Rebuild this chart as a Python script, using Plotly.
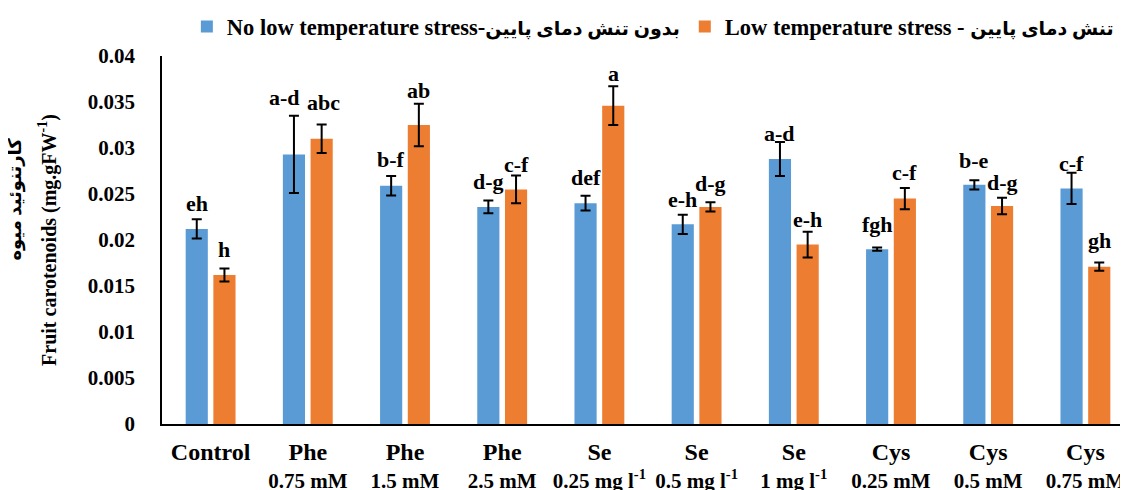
import plotly.graph_objects as go

# ---------------- data ----------------
group_top = ["Control", "Phe", "Phe", "Phe", "Se", "Se", "Se", "Cys", "Cys", "Cys"]
group_sub = ["", "0.75 mM", "1.5 mM", "2.5 mM", "0.25 mg l<sup>-1</sup>", "0.5 mg l<sup>-1</sup>",
             "1 mg l<sup>-1</sup>", "0.25 mM", "0.5 mM", "0.75 mM"]

no_stress = [0.0212, 0.0293, 0.0259, 0.0236, 0.0240, 0.0217, 0.0288, 0.0190, 0.0260, 0.0256]
no_stress_err = [0.00105, 0.0042, 0.00105, 0.0007, 0.0008, 0.00105, 0.00185, 0.00018, 0.0005, 0.0017]
no_stress_letters = ["eh", "a-d", "b-f", "d-g", "def", "e-h", "a-d", "fgh", "b-e", "c-f"]

low_temp = [0.0162, 0.0310, 0.0325, 0.0255, 0.0346, 0.0236, 0.0195, 0.0245, 0.0237, 0.0171]
low_temp_err = [0.0007, 0.00155, 0.0023, 0.0015, 0.0021, 0.0005, 0.0014, 0.00115, 0.0009, 0.00045]
low_temp_letters = ["h", "abc", "ab", "c-f", "a", "d-g", "e-h", "c-f", "d-g", "gh"]

y_ticks = [0, 0.005, 0.01, 0.015, 0.02, 0.025, 0.03, 0.035, 0.04]
y_ticklabels = ["0", "0.005", "0.01", "0.015", "0.02", "0.025", "0.03", "0.035", "0.04"]

name_no_en = "No low temperature stress-"
name_no_fa = "بدون تنش دمای پایین"
name_low_en = "Low temperature stress - "
name_low_fa = "تنش دمای پایین"

y_title_fa = "کارتنوئید میوه"
y_title_en = "Fruit carotenoids (mg.gFW<sup>-1</sup>)"

# ---------------- style ----------------
BLUE = "#5B9BD5"
ORANGE = "#ED7D31"
FONT = "Liberation Serif, DejaVu Sans, serif"
BARGAP = 0.43
BARGROUPGAP = 0.2
# gap (px) between error bar top and label baseline
gap_no = [7, 10, 8, 10, 10, 7, 0, 15, 11, 1]
gap_low = [11, 14, 5, 3, 4, 10, 4, 7, 7, 14]
xshift_no = [0, -9, 0, 0, 0, 0, 0, 0, 0, 0]
xshift_low = [0, 2, 0, 0, 0, 0, 0, 0, 0, 0]

x = list(range(len(group_top)))
ticktext = [f"<span style='font-size:24px'>{t}</span>" + (f"<br>{s}" if s else "")
            for t, s in zip(group_top, group_sub)]

fa_span = "<span style='font-size:19px'>{}</span>"

fig = go.Figure()
fig.add_trace(go.Bar(
    x=x, y=no_stress, name=name_no_en + fa_span.format(name_no_fa),
    marker=dict(color=BLUE, line=dict(width=0)),
    error_y=dict(type="data", array=no_stress_err, color="black", thickness=2, width=5),
))
fig.add_trace(go.Bar(
    x=x, y=low_temp, name=name_low_en + fa_span.format(name_low_fa),
    marker=dict(color=ORANGE, line=dict(width=0)),
    error_y=dict(type="data", array=low_temp_err, color="black", thickness=2, width=5),
))

off = (1 - BARGAP) / 4
annotations = []
for i in x:
    for val, err, lab, dx, gap, xs in [
        (no_stress[i], no_stress_err[i], no_stress_letters[i], -off, gap_no[i], xshift_no[i]),
        (low_temp[i], low_temp_err[i], low_temp_letters[i], off, gap_low[i], xshift_low[i]),
    ]:
        annotations.append(dict(
            x=i + dx, y=val + err, xref="x", yref="y", text=f"<b>{lab}</b>",
            showarrow=False, yanchor="bottom", xanchor="center",
            yshift=gap - 6, xshift=xs,
            font=dict(family=FONT, size=22, color="black"),
        ))

# Persian part of the y-axis title (first line, left of the English line)
annotations.append(dict(
    x=-0.1512, y=0.61, xref="paper", yref="paper", text=f"<b>{y_title_fa}</b>",
    showarrow=False, textangle=-90, xanchor="center", yanchor="middle",
    font=dict(family=FONT, size=18, color="black"),
))

fig.update_layout(
    width=1128, height=490,
    margin=dict(l=154, r=2, t=48, b=74, autoexpand=False),
    paper_bgcolor="white", plot_bgcolor="white",
    barmode="group", bargap=BARGAP, bargroupgap=BARGROUPGAP,
    font=dict(family=FONT, size=20, color="black"),
    showlegend=True,
    legend=dict(orientation="h", x=0.505, xanchor="center", y=1.079, yanchor="middle",
                font=dict(family=FONT, size=22.5, color="black", weight="bold"),
                itemwidth=30, tracegroupgap=0, bgcolor="rgba(0,0,0,0)"),
    annotations=annotations,
)
fig.update_xaxes(
    range=[-0.5, 9.5], tickvals=x, ticktext=ticktext,
    showline=True, linecolor="black", linewidth=2, ticks="", showgrid=False,
    tickfont=dict(family=FONT, size=21, color="black", weight="bold"),
    ticklabelstandoff=9, zeroline=False,
)
fig.update_yaxes(
    range=[0, 0.04], tickvals=y_ticks, ticktext=y_ticklabels,
    showline=True, linecolor="black", linewidth=1.5,
    ticks="", showgrid=False, zeroline=False,
    tickfont=dict(family=FONT, size=21, color="black", weight="bold"),
    ticklabelstandoff=21,
    title=dict(text=y_title_en,
               font=dict(family=FONT, size=20, color="black", weight="bold"), standoff=26),
)

fig.write_html("out.html")
